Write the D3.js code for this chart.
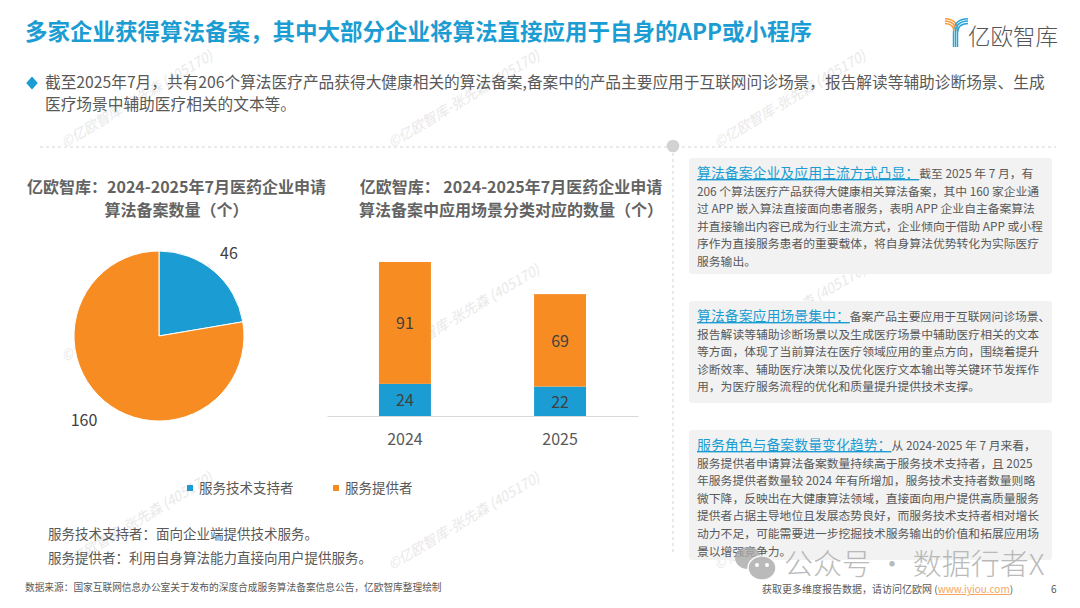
<!DOCTYPE html>
<html>
<head>
<meta charset="utf-8">
<script src="https://cdn.jsdelivr.net/npm/d3@7"></script>
<style>
  html, body { margin: 0; padding: 0; background: #fff; }
  svg { display: block; }
  text { font-family: "Noto Sans CJK SC", "Noto Sans", sans-serif; }
</style>
</head>
<body>
<svg id="chart" width="1080" height="608"></svg>
<script>
// Chart data
const pieLabels = ["服务技术支持者", "服务提供者"];
const pieValues = [46, 160];
const years = ["2024", "2025"];
const supportValues = [24, 22];
const providerValues = [91, 69];

// Page text
const titleText = "多家企业获得算法备案，其中大部分企业将算法直接应用于自身的APP或小程序";
const introLines = [
  "截至2025年7月，共有206个算法医疗产品获得大健康相关的算法备案,备案中的产品主要应用于互联网问诊场景，报告解读等辅助诊断场景、生成",
  "医疗场景中辅助医疗相关的文本等。"
];
const pieTitle = ["亿欧智库：2024-2025年7月医药企业申请", "算法备案数量（个）"];
const barTitle = ["亿欧智库： 2024-2025年7月医药企业申请", "算法备案中应用场景分类对应的数量（个）"];
const notes = ["服务技术支持者：面向企业端提供技术服务。", "服务提供者：利用自身算法能力直接向用户提供服务。"];
const sourceText = "数据来源：国家互联网信息办公室关于发布的深度合成服务算法备案信息公告，亿欧智库整理绘制";
const panelHeads = ["算法备案企业及应用主流方式凸显：", "算法备案应用场景集中：", "服务角色与备案数量变化趋势："];
const panelLines = [
  ["截至 2025 年 7 月，有",
   "206 个算法医疗产品获得大健康相关算法备案，其中 160 家企业通",
   "过 APP 嵌入算法直接面向患者服务，表明 APP 企业自主备案算法",
   "并直接输出内容已成为行业主流方式，企业倾向于借助 APP 或小程",
   "序作为直接服务患者的重要载体，将自身算法优势转化为实际医疗",
   "服务输出。"],
  ["备案产品主要应用于互联网问诊场景、",
   "报告解读等辅助诊断场景以及生成医疗场景中辅助医疗相关的文本",
   "等方面，体现了当前算法在医疗领域应用的重点方向，围绕着提升",
   "诊断效率、辅助医疗决策以及优化医疗文本输出等关键环节发挥作",
   "用，为医疗服务流程的优化和质量提升提供技术支撑。"],
  ["从 2024-2025 年 7 月来看，",
   "服务提供者申请算法备案数量持续高于服务技术支持者，且 2025",
   "年服务提供者数量较 2024 年有所增加，服务技术支持者数量则略",
   "微下降，反映出在大健康算法领域，直接面向用户提供高质量服务",
   "提供者占据主导地位且发展态势良好，而服务技术支持者相对增长",
   "动力不足，可能需要进一步挖掘技术服务输出的价值和拓展应用场",
   "景以增强竞争力。"]
];

const blue = "#1b9dd3";
const orange = "#f78d22";
const grey = "#595959";
const svg = d3.select("#chart");

// Repeated watermark, sits under everything else
const wmLayer = svg.append("g");
[148, 362, 570].forEach((y) => {
  [65, 392, 718].forEach((x) => {
    wmLayer.append("text")
      .attr("transform", `translate(${x},${y}) rotate(-31)`)
      .attr("font-size", 14)
      .attr("font-style", "italic")
      .attr("fill", "#e9e9e9")
      .text("©亿欧智库-张先森 (405170)");
  });
});

// Header
svg.append("text").attr("x", 25).attr("y", 40)
  .attr("font-size", 22.5).attr("font-weight", 700).attr("fill", blue)
  .text(titleText);

// Logo: orange and blue stripes joining into one stem
const logo = svg.append("g").attr("fill", "none").attr("stroke-width", 1.5);
[0, 1, 2].forEach((d) => {
  logo.append("path")
    .attr("d", `M945 ${18.7 + d * 2.4}Q${957.5 - d * 2} ${19 + d * 2.4} ${958 - d * 2} 31`)
    .attr("stroke", "#f79a3a");
  logo.append("path")
    .attr("d", `M968 ${18.7 + d * 2.4}Q${953.5 + d * 2} ${19 + d * 2.4} ${953.5 + d * 2} 33V47`)
    .attr("stroke", "#2aa5d8");
});
svg.append("text").attr("x", 968).attr("y", 45)
  .attr("font-size", 22.5).attr("font-weight", 300).attr("fill", "#555").text("亿欧智库");

// Intro with diamond bullet
svg.append("path")
  .attr("d", d3.symbol(d3.symbolDiamond, 70)())
  .attr("transform", "translate(32,83) scale(1.3,0.85)")
  .attr("fill", blue);
introLines.forEach((line, i) => {
  svg.append("text").attr("x", 45).attr("y", 88 + i * 22)
    .attr("font-size", 15.7).attr("fill", grey).text(line);
});

// Dashed dividers
svg.append("line").attr("x1", 40).attr("x2", 1056).attr("y1", 147).attr("y2", 147)
  .attr("stroke", "#d6d6d6").attr("stroke-dasharray", "3 3");
svg.append("line").attr("x1", 673).attr("x2", 673).attr("y1", 147).attr("y2", 552)
  .attr("stroke", "#e2e2e2").attr("stroke-width", 1.5).attr("stroke-dasharray", "3 3");
svg.append("circle").attr("cx", 673).attr("cy", 146).attr("r", 6.3).attr("fill", "#d2d2d2");

// Chart titles
function drawTitle(lines, cx) {
  lines.forEach((line, i) => {
    svg.append("text").attr("x", cx).attr("y", 193 + i * 23)
      .attr("text-anchor", "middle").attr("font-size", 16).attr("font-weight", 700)
      .attr("fill", "#636363").text(line);
  });
}
drawTitle(pieTitle, 176.5);
drawTitle(barTitle, 511);

// Pie
const pieGroup = svg.append("g").attr("transform", "translate(159,336)");
const arcs = d3.pie().sort(null)(pieValues);
const arcGen = d3.arc().innerRadius(0).outerRadius(85);
pieGroup.selectAll("path").data(arcs).join("path")
  .attr("d", arcGen)
  .attr("fill", (d, i) => (i === 0 ? blue : orange))
  .attr("stroke", "#fff").attr("stroke-width", 1);
svg.append("text").attr("x", 229).attr("y", 259).attr("text-anchor", "middle")
  .attr("font-size", 16).attr("fill", "#404040").text(pieValues[0]);
svg.append("text").attr("x", 84).attr("y", 426).attr("text-anchor", "middle")
  .attr("font-size", 16).attr("fill", "#404040").text(pieValues[1]);

// Stacked bars
const x = d3.scaleBand().domain(years).range([327, 638]).paddingInner(0.665).paddingOuter(0.335);
const y = d3.scaleLinear().domain([0, 115]).range([416, 262]);
const stackRows = years.map((yr, i) => ({ year: yr, support: supportValues[i], provider: providerValues[i] }));
const stacked = d3.stack().keys(["support", "provider"])(stackRows);
stacked.forEach((layer, k) => {
  const g = svg.append("g");
  g.selectAll("rect").data(layer).join("rect")
    .attr("x", (d) => x(d.data.year))
    .attr("width", x.bandwidth())
    .attr("y", (d) => y(d[1]))
    .attr("height", (d) => y(d[0]) - y(d[1]))
    .attr("fill", k === 0 ? blue : orange);
  g.selectAll("text").data(layer).join("text")
    .attr("x", (d) => x(d.data.year) + x.bandwidth() / 2)
    .attr("y", (d) => (y(d[0]) + y(d[1])) / 2 + 6.5)
    .attr("text-anchor", "middle").attr("font-size", 16).attr("fill", "#404040")
    .text((d) => d[1] - d[0]);
});
const xAxis = svg.append("g").attr("transform", "translate(0,416)")
  .call(d3.axisBottom(x).tickSize(0).tickPadding(18));
xAxis.select(".domain").attr("stroke", "#d9d9d9");
xAxis.selectAll("text").attr("font-size", 16).attr("fill", grey)
  .style("font-family", '"Noto Sans CJK SC", sans-serif');

// Legend
[[187, 199], [333, 345]].forEach(([sx, tx], i) => {
  svg.append("rect").attr("x", sx).attr("y", 485).attr("width", 6).attr("height", 6)
    .attr("fill", i === 0 ? blue : orange);
  svg.append("text").attr("x", tx).attr("y", 493).attr("font-size", 13.5)
    .attr("fill", grey).text(pieLabels[i]);
});

// Notes and footers
notes.forEach((line, i) => {
  svg.append("text").attr("x", 48).attr("y", 539 + i * 24)
    .attr("font-size", 13.5).attr("fill", grey).text(line);
});
svg.append("text").attr("x", 25).attr("y", 591).attr("font-size", 9.7)
  .attr("fill", grey).text(sourceText);

const foot = svg.append("text").attr("x", 762).attr("y", 593).attr("font-size", 10).attr("fill", grey);
foot.append("tspan").text("获取更多维度报告数据，请访问亿欧网 (");
foot.append("tspan").attr("fill", "#f4a460").attr("text-decoration", "underline").text("www.iyiou.com");
foot.append("tspan").text(")");
svg.append("text").attr("x", 1051).attr("y", 593).attr("font-size", 10).attr("fill", grey).text("6");

// Right side panels
const panelBoxes = [[158, 116], [301, 102], [430, 130]];
panelBoxes.forEach(([top, h], i) => {
  svg.append("rect").attr("x", 689).attr("y", top).attr("width", 363).attr("height", h)
    .attr("rx", 3).attr("fill", "#f2f2f2");
  const head = svg.append("text").attr("x", 697).attr("y", top + 20)
    .attr("font-size", 13.9).attr("fill", blue)
    .attr("text-decoration", "underline").text(panelHeads[i]);
  const headEnd = head.node().getComputedTextLength();
  panelLines[i].forEach((line, j) => {
    svg.append("text")
      .attr("x", j === 0 ? 697 + headEnd : 697)
      .attr("y", top + 20 + j * 17.6)
      .attr("font-size", 11.8).attr("fill", grey).text(line);
  });
});

// WeChat account stamp on top
const stamp = svg.append("g").attr("opacity", 0.8);
stamp.append("ellipse").attr("cx", 748).attr("cy", 558).attr("rx", 13).attr("ry", 11).attr("fill", "#aaa");
stamp.append("ellipse").attr("cx", 762).attr("cy", 568).attr("rx", 14).attr("ry", 12)
  .attr("fill", "#aaa").attr("stroke", "#fff").attr("stroke-width", 1.5);
[[757, 565], [767, 565]].forEach(([ex, ey]) => {
  stamp.append("circle").attr("cx", ex).attr("cy", ey).attr("r", 2).attr("fill", "#fff");
});
stamp.append("text").attr("x", 784).attr("y", 575).attr("font-size", 29).attr("font-weight", 300).attr("fill", "#aaa")
  .text("公众号 · 数据行者X");
</script>
</body>
</html>
